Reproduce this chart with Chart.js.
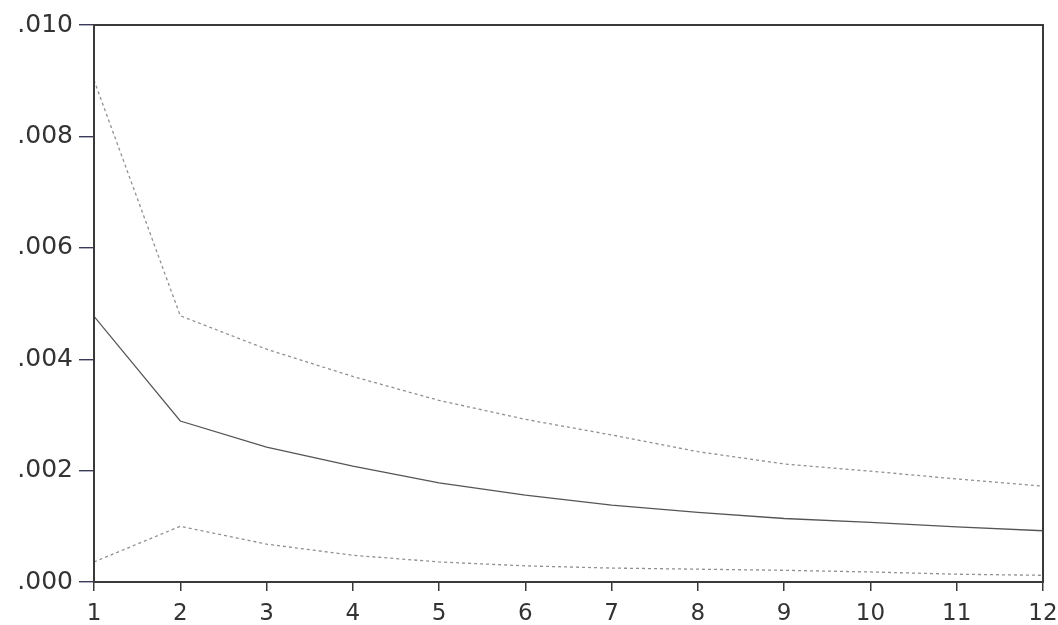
<!DOCTYPE html>
<html>
<head>
<meta charset="utf-8">
<script src="https://cdn.jsdelivr.net/npm/chart.js@4"></script>
<style>
	html, body { margin: 0; padding: 0; background: #fff; }
	#wrap { width: 1058px; height: 625px; }
</style>
</head>
<body>
<div id="wrap"><canvas id="response"></canvas></div>
<script>
const periods = [1, 2, 3, 4, 5, 6, 7, 8, 9, 10, 11, 12];
const upperBand = [0.00901, 0.00478, 0.00418, 0.00369, 0.00326, 0.00292, 0.00264, 0.00234, 0.00212, 0.00199, 0.00185, 0.00172];
const response = [0.00477, 0.00289, 0.00242, 0.00208, 0.00178, 0.00156, 0.00138, 0.00125, 0.00114, 0.00107, 0.00099, 0.00092];
const lowerBand = [0.00036, 0.00100, 0.00068, 0.00048, 0.00036, 0.00029, 0.00025, 0.00023, 0.00021, 0.00018, 0.00014, 0.00012];
const yTicks = [0, 0.002, 0.004, 0.006, 0.008, 0.010];

function points(values) {
	return periods.map(function(p, i) {
		return {x: p, y: values[i]};
	});
}

// box round the plot area
const frame = {
	id: 'frame',
	afterDatasetsDraw(chart) {
		const a = chart.chartArea;
		const ctx = chart.ctx;
		ctx.save();
		ctx.strokeStyle = '#3a3a3a';
		ctx.lineWidth = 2;
		ctx.strokeRect(a.left, a.top, a.right - a.left, a.bottom - a.top);
		ctx.restore();
	}
};

const yFont = {family: 'DejaVu Sans, sans-serif', size: 25};
const xFont = {family: 'DejaVu Sans, sans-serif', size: 23};

new Chart(document.getElementById('response'), {
	type: 'line',
	data: {
		datasets: [
			{data: points(upperBand), borderColor: '#909090', borderWidth: 1.3, borderDash: [3, 3]},
			{data: points(response), borderColor: '#555', borderWidth: 1.3},
			{data: points(lowerBand), borderColor: '#909090', borderWidth: 1.3, borderDash: [3, 3]}
		]
	},
	options: {
		responsive: true,
		maintainAspectRatio: false,
		animation: false,
		events: [],
		elements: {
			point: {radius: 0},
			line: {tension: 0}
		},
		layout: {
			padding: {top: 25, right: 15, left: 0, bottom: 0}
		},
		plugins: {
			legend: {display: false},
			tooltip: {enabled: false}
		},
		scales: {
			x: {
				type: 'linear',
				min: 1,
				max: 12,
				border: {display: false},
				grid: {drawOnChartArea: false, drawTicks: true, tickLength: 9, color: '#3a3a3a', lineWidth: 1.5},
				ticks: {stepSize: 1, color: '#333', font: xFont, padding: 9, maxRotation: 0},
				afterFit(scale) {
					scale.height = 43;
					// let the end labels hang over the padding
					scale.paddingLeft = 0;
					scale.paddingRight = 0;
				}
			},
			y: {
				min: 0,
				max: 0.01,
				border: {display: false},
				grid: {drawOnChartArea: false, drawTicks: true, tickLength: 15, color: '#3a3a5a', lineWidth: 1.4},
				ticks: {
					color: '#333',
					font: yFont,
					padding: 6,
					callback: function(v) {
						return v.toFixed(3).replace(/^0/, '');
					}
				},
				afterBuildTicks(scale) {
					scale.ticks = yTicks.map(function(v) {
						return {value: v};
					});
				},
				afterFit(scale) {
					scale.width = 94;
					scale.paddingTop = 0;
					scale.paddingBottom = 0;
				}
			}
		}
	},
	plugins: [frame]
});
</script>
</body>
</html>
